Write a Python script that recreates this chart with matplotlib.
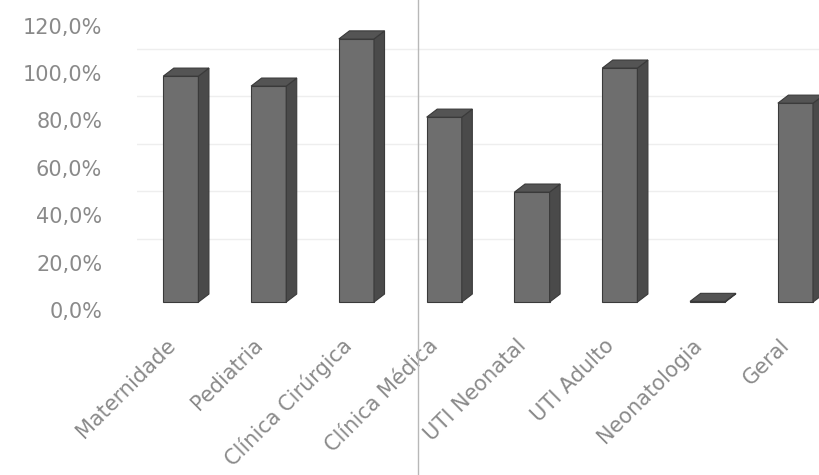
import numpy as np
import matplotlib
matplotlib.use('Agg')
import matplotlib.pyplot as plt
from matplotlib.lines import Line2D
from matplotlib.transforms import ScaledTranslation

# Data
setores = ['Maternidade', 'Pediatria', 'Clínica Cirúrgica', 'Clínica Médica',
           'UTI Neonatal', 'UTI Adulto', 'Neonatologia', 'Geral']
taxa = [95.3, 91.1, 111.0, 78.0, 46.4, 98.7, 0.3, 83.9]
yticks = [0, 20, 40, 60, 80, 100, 120]

fig = plt.figure(figsize=(8.2, 4.75), dpi=100)
ax = fig.add_axes([0.167, 0.347, 0.833, 0.599])

x = np.arange(len(setores))
w = 0.40        # front face width
dx = 0.12       # bar depth in x (categories)
dy = 3.4        # bar depth in y (percent)
off = 3.4       # front face sits this far behind the floor edge

# faint back wall gridlines
for t in yticks[1:]:
    ax.axhline(t + 2 * off + dy, color='#eeeeee', lw=1, zorder=0)

for xi, v in zip(x, taxa):
    x0, x1 = xi - w / 2, xi + w / 2
    b, t = off, v + off
    # front face
    ax.fill([x0, x1, x1, x0], [b, b, t, t], facecolor='#6e6e6e',
            edgecolor='#3a3a3a', lw=0.8, zorder=3)
    # side face
    ax.fill([x1, x1 + dx, x1 + dx, x1], [b, b + dy, t + dy, t], facecolor='#4a4a4a',
            edgecolor='#3a3a3a', lw=0.8, zorder=3)
    # top face
    ax.fill([x0, x1, x1 + dx, x0 + dx], [t, t, t + dy, t + dy], facecolor='#545454',
            edgecolor='#3a3a3a', lw=0.8, zorder=4)

ax.set_xlim(-0.5, 7.28)
ax.set_ylim(0, 120)
ax.set_yticks(yticks)
ax.set_yticklabels([f'{t:.1f}%'.replace('.', ',') for t in yticks],
                   fontsize=15, color='#8a8a8a')
ax.set_xticks(x)
ax.set_xticklabels(setores, rotation=45, ha='right', rotation_mode='anchor',
                   fontsize=15, color='#8a8a8a')
ax.tick_params(axis='both', length=0)
ax.tick_params(axis='y', pad=25)
ax.tick_params(axis='x', pad=18)
shift = ScaledTranslation(-0.16, 0, fig.dpi_scale_trans)
for lab in ax.get_xticklabels():
    lab.set_transform(lab.get_transform() + shift)
for s in ax.spines.values():
    s.set_visible(False)

# vertical fold line of the scanned page
fig.add_artist(Line2D([418 / 820, 418 / 820], [0, 1], color='#b8b8b8', lw=1))

fig.savefig('out.png', dpi=100)
